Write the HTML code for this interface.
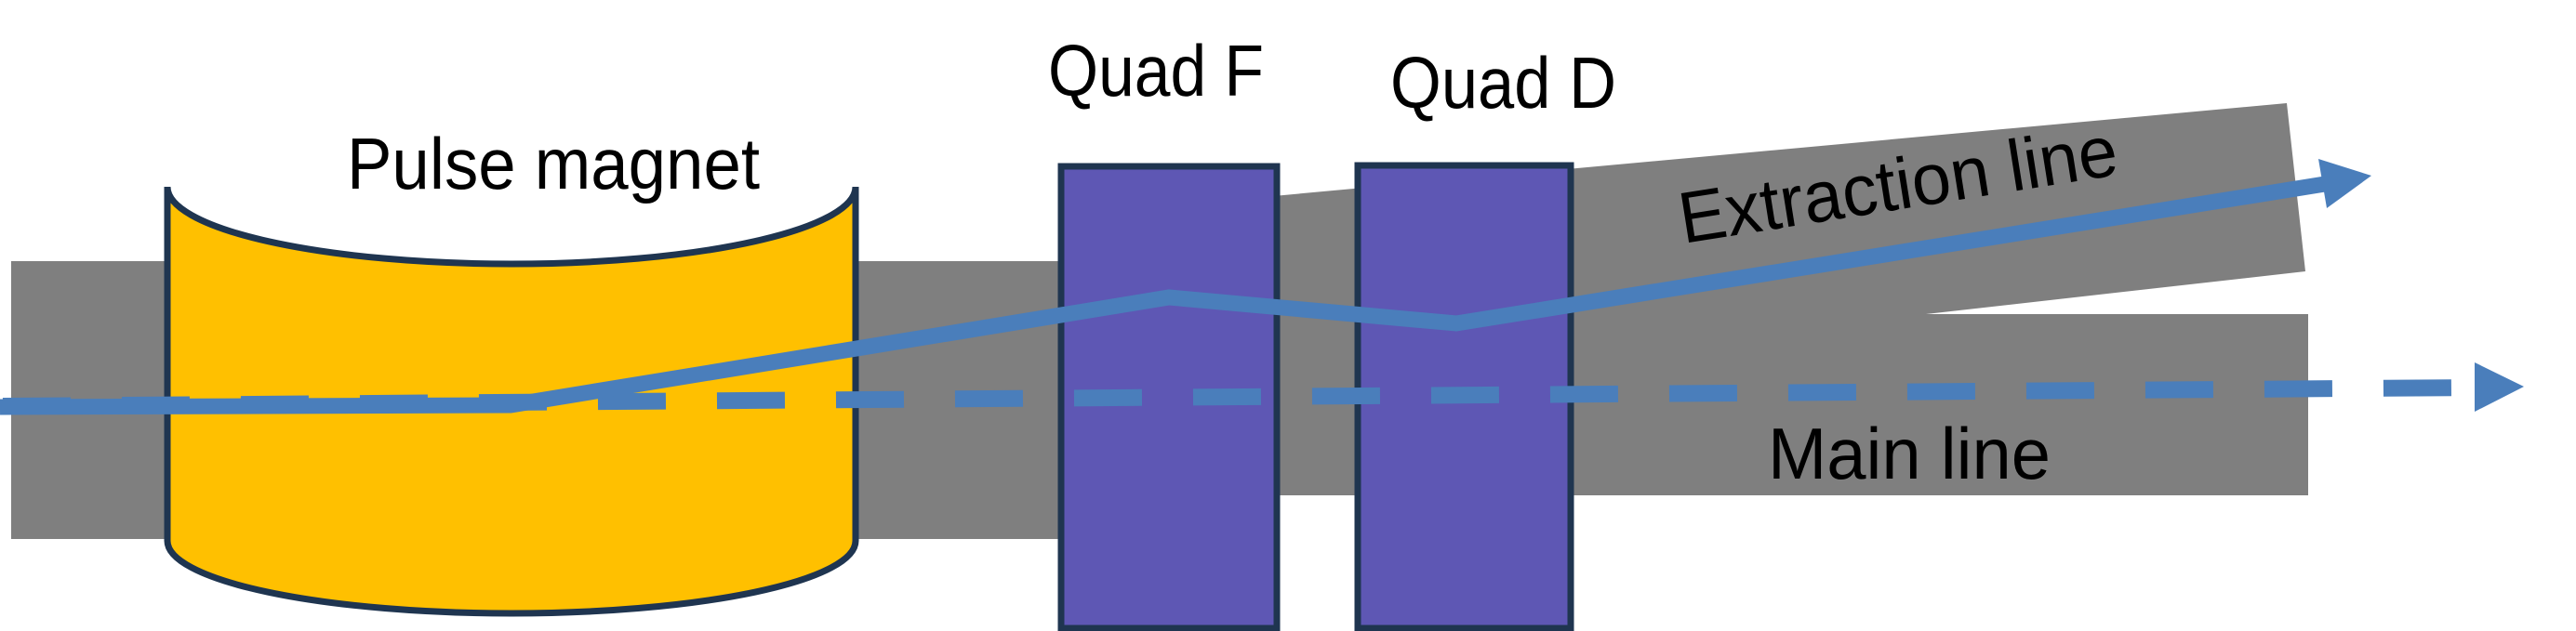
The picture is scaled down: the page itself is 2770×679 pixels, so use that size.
<!DOCTYPE html>
<html><head><style>
html,body{margin:0;padding:0;background:#fff;}
svg{display:block;}
text{font-family:"Liberation Sans Narrow","Liberation Sans",sans-serif;fill:#000;}
</style></head><body>
<svg width="2770" height="679" viewBox="0 0 2770 679" xmlns="http://www.w3.org/2000/svg">
<rect x="12" y="281" width="1140" height="299" fill="#7f7f7f"/>
<polygon points="1140,232 2459,111 2479,292 2071,338 2482,338 2482,533 1140,533" fill="#7f7f7f"/>
<path d="M180,201 L180,582 A370,78 0 0 0 920,582 L920,201 A370,83 0 0 1 180,201 Z" fill="#FFC000" stroke="#1F3550" stroke-width="7"/>
<rect x="1141" y="179" width="232" height="497" fill="#5E57B4" stroke="#1F3550" stroke-width="7"/>
<rect x="1460" y="178" width="229" height="498" fill="#5E57B4" stroke="#1F3550" stroke-width="7"/>
<line x1="3" y1="437" x2="2661" y2="417" stroke="#4A7EBB" stroke-width="18" stroke-dasharray="73 55"/>
<polygon points="2661,390 2714,416 2661,443" fill="#4A7EBB"/>
<polyline points="0,438 549,436 1257,320 1566,348 2500,198" fill="none" stroke="#4A7EBB" stroke-width="17" stroke-linejoin="miter"/>
<polygon points="2493,171 2550,189 2502,224" fill="#4A7EBB"/>
<text x="373" y="203" font-size="78" textLength="444" lengthAdjust="spacingAndGlyphs">Pulse magnet</text>
<text x="1127" y="103" font-size="78" textLength="232" lengthAdjust="spacingAndGlyphs">Quad F</text>
<text x="1495" y="116" font-size="78" textLength="243" lengthAdjust="spacingAndGlyphs">Quad D</text>
<text x="1901" y="515" font-size="78" textLength="304" lengthAdjust="spacingAndGlyphs">Main line</text>
<text x="0" y="0" font-size="78" textLength="476" lengthAdjust="spacingAndGlyphs" transform="translate(1810,262) rotate(-9)">Extraction line</text>
</svg>
</body></html>
